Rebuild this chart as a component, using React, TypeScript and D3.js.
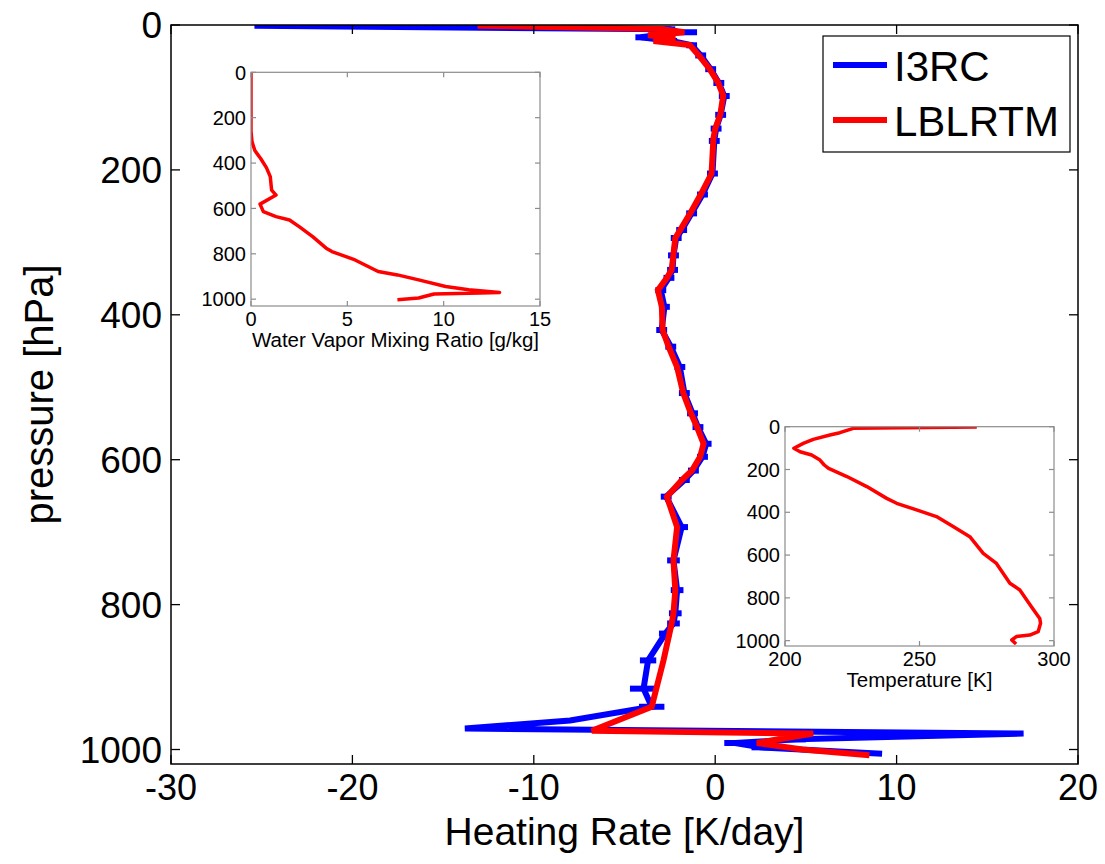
import React from "react";
import * as d3 from "d3";

// ---- Main panel: heating rate profiles ----
const P_I3RC = [1, 6, 10, 17, 22, 28, 42, 61, 80, 98, 124, 143, 160, 205, 234, 260, 283, 294, 318, 338, 349, 366, 389, 421, 444, 472, 508, 536, 555, 578, 596, 615, 628, 651, 693, 739, 780, 812, 826, 840, 877, 916, 941, 960, 971, 978, 986, 991, 997, 1006];
const HR_I3RC = [-25.4, -2.5, -2.0, -4.1, -2.4, -1.3, -0.8, -0.25, 0.2, 0.5, 0.3, 0.05, -0.05, -0.15, -0.7, -1.3, -1.85, -2.15, -2.3, -2.35, -2.55, -3.0, -2.8, -2.95, -2.45, -1.95, -1.7, -1.25, -0.95, -0.5, -0.7, -1.2, -1.7, -2.7, -1.85, -2.3, -2.1, -2.2, -2.3, -2.75, -3.7, -3.95, -3.5, -8.0, -13.8, 17.0, 4.5, 1.1, 2.5, 9.2];
const ERR_I3RC = [0, 0.3, 1.0, 0.3, 0.3, 0.3, 0.3, 0.3, 0.3, 0.3, 0.3, 0.3, 0.3, 0.3, 0.3, 0.3, 0.3, 0.3, 0.3, 0.3, 0.3, 0.3, 0.3, 0.3, 0.3, 0.3, 0.3, 0.3, 0.3, 0.3, 0.3, 0.3, 0.3, 0.3, 0.35, 0.35, 0.35, 0.35, 0.35, 0.35, 0.45, 0.75, 0.7, 0, 0, 0, 0.5, 0.6, 0.5, 0];

const P_LBL = [1, 5.5, 10, 14, 18, 22, 27.6, 42, 61, 80, 97.5, 124, 143, 157, 205, 234, 260, 283, 294, 338, 349, 366, 389, 421, 444, 472, 508, 536, 555, 578, 596, 615, 628, 651, 693, 739, 780, 812, 826, 877, 941, 974, 978, 991, 1000, 1008];
const HR_LBL = [-13.1, -3.0, -1.7, -3.7, -2.2, -3.4, -1.4, -0.9, -0.3, 0.17, 0.44, 0.28, 0.0, -0.1, -0.2, -0.8, -1.38, -1.93, -2.2, -2.4, -2.66, -3.16, -2.94, -2.9, -2.57, -2.1, -1.76, -1.34, -1.0, -0.64, -0.83, -1.28, -1.84, -2.66, -2.1, -2.3, -2.2, -2.3, -2.4, -2.85, -3.5, -6.8, 5.4, 2.3, 4.8, 8.5];

const X_TICKS = [-30, -20, -10, 0, 10, 20];
const Y_TICKS = [0, 200, 400, 600, 800, 1000];
const SERIES_NAMES = ["I3RC", "LBLRTM"];

// ---- Inset 1: water vapor ----
const WV_P = [0, 260, 305, 345, 380, 420, 460, 519, 541, 581, 614, 636, 651, 680, 724, 775, 790, 827, 878, 893, 915, 944, 958, 970, 973, 977, 995, 1002];
const WV_Q = [0.0, 0.0, 0.05, 0.2, 0.5, 0.8, 1.0, 1.07, 1.3, 0.47, 0.64, 1.3, 2.0, 2.5, 3.2, 3.9, 4.2, 5.4, 6.6, 7.6, 8.7, 10.1, 11.3, 12.9, 11.9, 9.5, 8.7, 7.6];
const WV_X_TICKS = [0, 5, 10, 15];

// ---- Inset 2: temperature ----
const T_P = [1, 7.6, 28, 39, 59, 78, 101, 117, 132, 156, 179, 195, 233, 280, 335, 358, 389, 420, 467, 514, 592, 639, 732, 763, 841, 896, 919, 958, 974, 981, 997, 1016];
const T_K = [271.3, 225.4, 220.4, 216.7, 210.5, 206.8, 203.3, 205.6, 209.9, 213.0, 214.6, 216.2, 223.0, 230.4, 237.8, 241.5, 248.9, 256.3, 262.5, 268.7, 273.7, 278.6, 283.6, 287.3, 291.6, 294.7, 295.0, 294.1, 291.0, 286.0, 284.3, 285.9];
const T_X_TICKS = [200, 250, 300];

const FONT = "'Liberation Sans', Arial, Helvetica, sans-serif";
const BLUE = "#0000ff";
const RED = "#ff0000";

function Inset(props: {
  x0: number; x1: number; y0: number; y1: number;
  xDomain: [number, number]; yMax: number;
  xTicks: number[]; xs: number[]; ps: number[]; label: string; clipId: string;
}) {
  const { x0, x1, y0, y1, xDomain, yMax, xTicks, xs, ps, label, clipId } = props;
  const xs_ = d3.scaleLinear().domain(xDomain).range([x0, x1]);
  const ys_ = d3.scaleLinear().domain([0, yMax]).range([y0, y1]);
  const pts: [number, number][] = xs.map((v, i) => [v, ps[i]]);
  const line = d3.line<[number, number]>().x((d) => xs_(d[0])).y((d) => ys_(d[1]));
  const grey = "#8c8c8c";
  const tl = 5;
  return (
    <g>
      <defs>
        <clipPath id={clipId}>
          <rect x={x0} y={y0} width={x1 - x0} height={y1 - y0} />
        </clipPath>
      </defs>
      <rect x={x0} y={y0} width={x1 - x0} height={y1 - y0} fill="#fff" />
      <path d={line(pts) || ""} fill="none" stroke={RED} strokeWidth={3.5} strokeLinejoin="round" clipPath={`url(#${clipId})`} />
      <rect x={x0} y={y0} width={x1 - x0} height={y1 - y0} fill="none" stroke={grey} strokeWidth={1.2} />
      {Y_TICKS.map((t) => (
        <g key={"iy" + t}>
          <line x1={x0} x2={x0 + tl} y1={ys_(t)} y2={ys_(t)} stroke={grey} strokeWidth={1.2} />
          <line x1={x1} x2={x1 - tl} y1={ys_(t)} y2={ys_(t)} stroke={grey} strokeWidth={1.2} />
          <text x={x0 - 5} y={ys_(t)} dy="0.36em" textAnchor="end" fontSize={20} fontFamily={FONT} fill="#000">{t}</text>
        </g>
      ))}
      {xTicks.map((t) => (
        <g key={"ix" + t}>
          <line x1={xs_(t)} x2={xs_(t)} y1={y1} y2={y1 - tl} stroke={grey} strokeWidth={1.2} />
          <line x1={xs_(t)} x2={xs_(t)} y1={y0} y2={y0 + tl} stroke={grey} strokeWidth={1.2} />
          <text x={xs_(t)} y={y1 + 20} textAnchor="middle" fontSize={20} fontFamily={FONT} fill="#000">{t}</text>
        </g>
      ))}
      <text x={(x0 + x1) / 2} y={y1 + 41} textAnchor="middle" fontSize={20.5} fontFamily={FONT} fill="#000">{label}</text>
    </g>
  );
}

export default function App() {
  const L = 171, R = 1078, T = 25, B = 764;
  const x = d3.scaleLinear().domain([-30, 20]).range([L, R]);
  const y = d3.scaleLinear().domain([0, 1020]).range([T, B]);
  const line = d3.line<[number, number]>().x((d) => x(d[0])).y((d) => y(d[1]));
  const blue: [number, number][] = HR_I3RC.map((v, i) => [v, P_I3RC[i]]);
  const red: [number, number][] = HR_LBL.map((v, i) => [v, P_LBL[i]]);
  const tl = 9;

  return (
    <svg width={1105} height={864} style={{ display: "block", position: "absolute", left: 0, top: 0, background: "#fff" }}>
      <rect width={1105} height={864} fill="#fff" />
      <defs>
        <clipPath id="mainclip">
          <rect x={L} y={T} width={R - L} height={B - T} />
        </clipPath>
      </defs>
      <g clipPath="url(#mainclip)">
        <path d={line(blue) || ""} fill="none" stroke={BLUE} strokeWidth={6} strokeLinejoin="miter" />
        {blue.map((d, i) =>
          ERR_I3RC[i] > 0 ? (
            <line key={"e" + i} x1={x(d[0] - ERR_I3RC[i])} x2={x(d[0] + ERR_I3RC[i])} y1={y(d[1])} y2={y(d[1])} stroke={BLUE} strokeWidth={6} />
          ) : null
        )}
        <path d={line(red) || ""} fill="none" stroke={RED} strokeWidth={6} strokeLinejoin="miter" />
      </g>
      <rect x={L} y={T} width={R - L} height={B - T} fill="none" stroke="#000" strokeWidth={1.5} />
      {X_TICKS.map((t) => (
        <g key={"x" + t}>
          <line x1={x(t)} x2={x(t)} y1={B} y2={B - tl} stroke="#000" strokeWidth={1.3} />
          <line x1={x(t)} x2={x(t)} y1={T} y2={T + tl} stroke="#000" strokeWidth={1.3} />
          <text x={x(t)} y={800} textAnchor="middle" fontSize={36} fontFamily={FONT} fill="#000">{t}</text>
        </g>
      ))}
      {Y_TICKS.map((t) => (
        <g key={"y" + t}>
          <line x1={L} x2={L + tl} y1={y(t)} y2={y(t)} stroke="#000" strokeWidth={1.3} />
          <line x1={R} x2={R - tl} y1={y(t)} y2={y(t)} stroke="#000" strokeWidth={1.3} />
          <text x={162} y={y(t)} dy="0.36em" textAnchor="end" fontSize={37} fontFamily={FONT} fill="#000">{t}</text>
        </g>
      ))}
      <text x={(L + R) / 2} y={845} textAnchor="middle" fontSize={39} fontFamily={FONT} fill="#000">Heating Rate [K/day]</text>
      <text transform={`translate(53,${(T + B) / 2}) rotate(-90)`} textAnchor="middle" fontSize={40} fontFamily={FONT} fill="#000">pressure [hPa]</text>

      {/* legend */}
      <rect x={823} y={36} width={247} height={116} fill="#fff" stroke="#000" strokeWidth={1.2} />
      {SERIES_NAMES.map((n, i) => (
        <g key={n}>
          <line x1={833} x2={887} y1={65 + i * 55} y2={65 + i * 55} stroke={i === 0 ? BLUE : RED} strokeWidth={6} />
          <text x={894} y={81 + i * 55} fontSize={42} fontFamily={FONT} fill="#000">{n}</text>
        </g>
      ))}

      <Inset x0={251} x1={540} y0={72.3} y1={306} xDomain={[0, 15]} yMax={1030} xTicks={WV_X_TICKS}
        xs={WV_Q} ps={WV_P} label="Water Vapor Mixing Ratio [g/kg]" clipId="c1" />
      <Inset x0={785} x1={1054} y0={426.7} y1={646} xDomain={[200, 300]} yMax={1025} xTicks={T_X_TICKS}
        xs={T_K} ps={T_P} label="Temperature [K]" clipId="c2" />
    </svg>
  );
}
